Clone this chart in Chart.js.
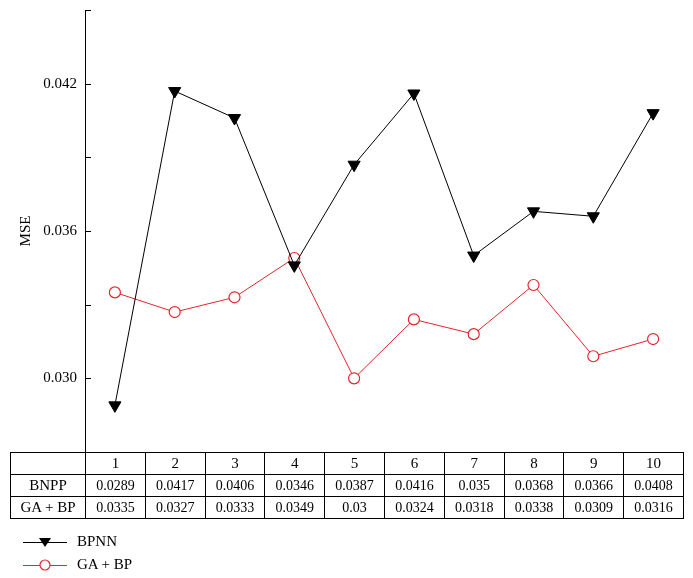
<!DOCTYPE html>
<html>
<head>
<meta charset="utf-8">
<script src="https://cdn.jsdelivr.net/npm/chart.js@4.4.1/dist/chart.umd.min.js"></script>
<style>
  body { margin: 0; background: #fff; }
  #wrap { position: relative; width: 693px; height: 578px; }
  #chart { position: absolute; left: 0; top: 0; }
  #dataTable {
    position: absolute; left: 10px; top: 452px;
    border-collapse: collapse; table-layout: fixed;
    font-family: 'Liberation Serif', serif; color: #000;
  }
  #dataTable td {
    border: 1px solid #000; text-align: center; padding: 0;
    height: 21px; font-size: 14px; line-height: 21px; white-space: nowrap;
  }
  #dataTable td.name { font-size: 15px; }
  #legend { position: absolute; left: 23px; top: 530px; font-family: 'Liberation Serif', serif; font-size: 15px; }
  .leg-row { display: flex; align-items: center; height: 23px; }
  .leg-row svg { margin-right: 10px; }
</style>
</head>
<body>
<div id="wrap">
  <canvas id="chart" width="693" height="578"></canvas>
  <table id="dataTable"></table>
  <div id="legend"></div>
</div>
<script>
// Data
const categories = ['1', '2', '3', '4', '5', '6', '7', '8', '9', '10'];
const bpnnValues = [0.0289, 0.0417, 0.0406, 0.0346, 0.0387, 0.0416, 0.035, 0.0368, 0.0366, 0.0408];
const gaBpValues = [0.0335, 0.0327, 0.0333, 0.0349, 0.03, 0.0324, 0.0318, 0.0338, 0.0309, 0.0316];
const tableRowNames = ['BNPP', 'GA + BP'];
const legendNames = ['BPNN', 'GA + BP'];
const yTickLabels = ['0.030', '0.036', '0.042'];

const FONT = "'Liberation Serif', serif";
const RED = '#e8232a';

// Inward tick marks on the y axis
const innerTicks = {
    id: 'innerTicks',
    afterDraw(chart) {
        const y = chart.scales.y;
        const ctx = chart.ctx;
        ctx.save();
        ctx.strokeStyle = '#000';
        ctx.lineWidth = 1;
        y.ticks.forEach(t => {
            const py = Math.round(y.getPixelForValue(t.value)) + 0.5;
            ctx.beginPath();
            ctx.moveTo(y.right, py);
            ctx.lineTo(y.right + 6, py);
            ctx.stroke();
        });
        ctx.restore();
    }
};

const chart = new Chart(document.getElementById('chart'), {
    type: 'line',
    data: {
        labels: categories,
        datasets: [{
            label: legendNames[0],
            data: bpnnValues,
            borderColor: '#000',
            backgroundColor: '#000',
            borderWidth: 1,
            pointStyle: 'triangle',
            pointRotation: 180,
            pointRadius: 7,
            pointBorderWidth: 1,
            tension: 0
        }, {
            label: legendNames[1],
            data: gaBpValues,
            borderColor: RED,
            backgroundColor: '#fff',
            borderWidth: 1,
            pointStyle: 'circle',
            pointRadius: 5.5,
            pointBorderWidth: 1.2,
            tension: 0
        }]
    },
    options: {
        responsive: false,
        animation: false,
        layout: { padding: { left: 0, right: 10, top: 10, bottom: 126 } },
        plugins: {
            legend: { display: false },
            tooltip: { enabled: false }
        },
        scales: {
            x: {
                type: 'category',
                offset: true,
                display: false
            },
            y: {
                min: 0.027,
                max: 0.045,
                border: { display: true, color: '#000', width: 1 },
                grid: { drawOnChartArea: false, drawTicks: false },
                ticks: {
                    stepSize: 0.003,
                    padding: 8,
                    color: '#000',
                    font: { family: FONT, size: 15 },
                    callback: v => {
                        const s = v.toFixed(3);
                        return yTickLabels.includes(s) ? s : '';
                    }
                },
                title: {
                    display: true,
                    text: 'MSE',
                    color: '#000',
                    font: { family: FONT, size: 15 },
                    padding: { top: 17, bottom: 0 }
                },
                afterFit: s => {
                    s.width = 85;
                    s.paddingTop = 0;
                    s.paddingBottom = 0;
                }
            }
        }
    },
    plugins: [innerTicks]
});

// Build the table aligned with the x scale
function buildTable() {
    const x = chart.scales.x;
    const step = x.getPixelForValue(1) - x.getPixelForValue(0);
    const firstW = x.getPixelForValue(0) - step / 2 - 10;
    let html = '<colgroup><col style="width:' + firstW + 'px">';
    categories.forEach(() => { html += '<col style="width:' + step + 'px">'; });
    html += '</colgroup>';
    html += '<tr><td></td>' + categories.map(c => '<td class="name">' + c + '</td>').join('') + '</tr>';
    [bpnnValues, gaBpValues].forEach((vals, i) => {
        html += '<tr><td class="name">' + tableRowNames[i] + '</td>' +
            vals.map(v => '<td>' + v + '</td>').join('') + '</tr>';
    });
    const table = document.getElementById('dataTable');
    table.innerHTML = html;
    table.style.width = (firstW + step * categories.length) + 'px';
}

function buildLegend() {
    const legend = document.getElementById('legend');
    legend.innerHTML = chart.data.datasets.map(ds => {
        const marker = ds.pointStyle === 'triangle'
            ? '<polygon points="16,4 28,4 22,13" fill="' + ds.borderColor + '"/>'
            : '<circle cx="22" cy="8" r="5" fill="#fff" stroke="' + ds.borderColor + '" stroke-width="1.2"/>';
        return '<div class="leg-row"><svg width="44" height="16">' +
            '<line x1="0" y1="8.5" x2="44" y2="8.5" stroke="' + ds.borderColor + '" stroke-width="1.2"/>' +
            marker + '</svg><span>' + ds.label + '</span></div>';
    }).join('');
}

buildTable();
buildLegend();
</script>
</body>
</html>
